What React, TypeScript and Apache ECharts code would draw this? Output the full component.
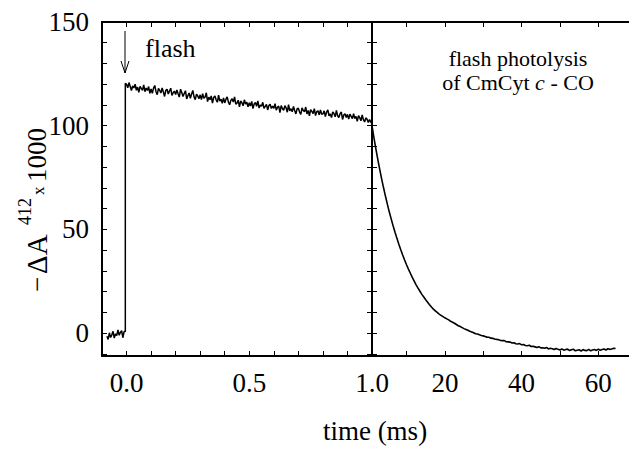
import React, { useEffect, useRef } from "react";
import * as echarts from "echarts";

const FONT = "'Liberation Serif','Times New Roman',Times,serif";

// ---- data ----
// pre-flash baseline (time in ms, -ΔA412 x 1000)
const preFlashTimes = [-0.08, -0.075, -0.07, -0.065, -0.06, -0.055, -0.05, -0.045, -0.04, -0.035, -0.03, -0.025, -0.02, -0.015, -0.01];
const preFlashValues = [-1.5, -3.0, 0.2, -2.1, -0.8, 0.9, -2.4, -0.3, -1.2, 1.6, -1.0, 0.4, 1.2, -2.2, 0.8];
const flashTime = -0.005;
const flashPeak = 120.5;

// post-flash trace, sampled every 0.005 ms from 0.000 to 1.000 ms
const postStart = 0;
const postStep = 0.005;
const postFlashValues = [
  120.0, 118.3, 120.8, 118.9, 117.0, 119.2, 118.2, 120.0, 117.1, 118.6, 116.1, 118.9, 118.0, 117.1, 119.7, 116.4, 118.2, 117.0, 118.9, 115.6,
  117.7, 115.6, 118.1, 119.4, 116.4, 115.0, 118.0, 117.0, 115.8, 118.2, 116.3, 114.1, 117.1, 117.6, 115.3, 116.7, 118.1, 114.6, 115.9, 116.7,
  115.0, 117.2, 115.4, 113.8, 117.6, 116.0, 114.1, 115.5, 116.9, 112.9, 114.5, 115.8, 113.2, 115.3, 117.0, 113.9, 112.6, 115.2, 114.4, 113.0,
  114.9, 112.6, 115.4, 113.2, 113.8, 115.9, 111.6, 113.8, 112.5, 114.4, 110.9, 113.6, 114.4, 112.5, 111.3, 114.7, 111.9, 112.8, 110.8, 113.4,
  111.0, 112.8, 113.9, 111.4, 110.1, 112.2, 113.0, 111.4, 113.9, 110.4, 110.9, 112.3, 109.1, 111.9, 111.1, 109.6, 112.5, 110.4, 111.3, 109.1,
  111.1, 109.5, 111.7, 108.3, 110.5, 111.2, 109.4, 112.0, 108.5, 110.0, 109.4, 111.3, 108.4, 109.3, 110.3, 107.6, 109.7, 110.4, 108.3, 109.4,
  108.4, 110.6, 107.5, 108.9, 109.5, 106.3, 109.7, 108.3, 107.4, 109.7, 108.6, 106.5, 110.2, 107.2, 108.2, 106.7, 109.3, 107.3, 105.7, 108.2,
  108.4, 106.6, 105.5, 108.6, 107.3, 106.7, 109.0, 105.7, 107.4, 104.8, 107.8, 106.9, 105.8, 108.2, 104.9, 106.8, 107.2, 105.2, 107.6, 105.5,
  105.7, 107.2, 104.4, 106.6, 107.6, 104.8, 105.7, 103.9, 106.7, 105.9, 104.3, 107.4, 104.8, 103.9, 105.8, 106.6, 103.0, 105.2, 105.8, 104.0,
  105.5, 103.2, 105.6, 104.5, 103.4, 105.8, 103.5, 104.5, 102.1, 104.9, 103.9, 102.4, 105.2, 102.9, 101.8, 103.8, 103.1, 101.6, 103.0, 101.8,
  101.0,
];

// decay after 1.0 ms, sampled every 0.5 ms from 1.0 to 64.5 ms
const decayStart = 1;
const decayStep = 0.5;
const decayValues = [
  100, 94.3, 89.0, 83.9, 79.1, 74.5, 70.2, 66.1, 62.2, 58.5,
  55.1, 51.8, 48.7, 45.7, 42.9, 40.2, 37.7, 35.3, 33.0, 30.9,
  28.9, 26.9, 25.1, 23.3, 21.7, 20.2, 18.7, 17.4, 16.1, 14.9,
  13.7, 12.6, 11.6, 10.8, 10.0, 9.2, 8.6, 8.0, 7.4,
  6.9, 6.4, 5.7, 5.3, 4.8, 4.2, 3.6, 3.2, 2.7, 2.2,
  1.8, 1.4, 0.9, 0.6, 0.2, -0.3, -0.4, -0.8, -1.1, -1.3,
  -1.6, -1.9, -2.0, -2.4, -2.5, -2.8, -3.0, -3.1, -3.5, -3.6,
  -3.6, -4.1, -4.2, -4.3, -4.7, -4.6, -5.1, -5.2, -5.0, -5.6,
  -5.5, -5.9, -6.1, -5.8, -6.4, -6.3, -6.6, -6.9, -6.5, -7.1,
  -7.0, -7.3, -6.9, -7.6, -7.3, -7.5, -7.9, -7.4, -7.8, -8.1,
  -7.6, -8.2, -7.9, -7.7, -8.4, -8.0, -7.7, -8.5, -8.2, -8.0,
  -8.6, -7.9, -8.3, -8.4, -7.8, -8.5, -8.1, -7.9, -8.3, -7.7,
  -8.2, -7.9, -7.6, -8.1, -7.5, -7.8, -7.6, -7.3, -7.4,
];

// axes
const yMin = -11;
const yMax = 150;
const yTickValues = [-10, 0, 10, 20, 30, 40, 50, 60, 70, 80, 90, 100, 110, 120, 130, 140, 150];
const yLabelValues = [0, 50, 100, 150];
const leftXMin = -0.1;
const leftXMax = 1.0;
const leftXLabels = [0, 0.5, 1.0];
const rightXMin = 1;
const rightXMax = 68;
const rightXTicks = [10, 20, 30, 40, 50, 60];
const rightXLabels = [20, 40, 60];

export default function App() {
  const ref = useRef<HTMLDivElement>(null);
  useEffect(() => {
    document.body.style.margin = "0";
    const chart = echarts.init(ref.current!, null, { renderer: "svg" });

    const leftData: number[][] = [];
    preFlashTimes.forEach((t, i) => leftData.push([t, preFlashValues[i]]));
    leftData.push([flashTime, preFlashValues[preFlashValues.length - 1]]);
    leftData.push([flashTime, flashPeak]);
    postFlashValues.forEach((v, i) => leftData.push([postStart + i * postStep, v]));

    const rightData: number[][] = decayValues.map((v, i) => [decayStart + i * decayStep, v]);

    const axisLine = { show: true, onZero: false, lineStyle: { color: "#000", width: 2 } };
    const tick = { show: true, inside: true, length: 5, lineStyle: { color: "#000", width: 1 } };
    const labelStyle = { color: "#000", fontFamily: FONT, fontSize: 27 };

    chart.setOption({
      animation: false,
      backgroundColor: "#fff",
      grid: [
        { left: 102, top: 22, width: 270, height: 334 },
        { left: 372, top: 22, width: 257, height: 334 },
      ],
      xAxis: [
        {
          type: "value", gridIndex: 0, position: "bottom", min: leftXMin, max: leftXMax, interval: 0.1,
          axisLine, axisTick: tick, splitLine: { show: false },
          axisLabel: { ...labelStyle, margin: 13, customValues: leftXLabels, formatter: (v: number) => v.toFixed(1) },
        },
        {
          type: "value", gridIndex: 0, position: "top", min: leftXMin, max: leftXMax, interval: 0.1,
          axisLine, axisTick: tick, splitLine: { show: false }, axisLabel: { show: false },
        },
        {
          type: "value", gridIndex: 1, position: "bottom", min: rightXMin, max: rightXMax,
          axisLine, axisTick: { ...tick, customValues: rightXTicks }, splitLine: { show: false },
          axisLabel: { ...labelStyle, margin: 13, customValues: rightXLabels, formatter: (v: number) => String(v) },
        },
        {
          type: "value", gridIndex: 1, position: "top", min: rightXMin, max: rightXMax,
          axisLine, axisTick: { ...tick, customValues: rightXTicks }, splitLine: { show: false }, axisLabel: { show: false },
        },
      ],
      yAxis: [
        {
          type: "value", gridIndex: 0, position: "left", min: yMin, max: yMax,
          axisLine, axisTick: { ...tick, customValues: yTickValues }, splitLine: { show: false },
          axisLabel: { ...labelStyle, margin: 13, customValues: yLabelValues },
        },
        {
          type: "value", gridIndex: 0, position: "right", min: yMin, max: yMax,
          axisLine, axisTick: { ...tick, customValues: yTickValues }, splitLine: { show: false }, axisLabel: { show: false },
        },
        {
          type: "value", gridIndex: 1, position: "left", min: yMin, max: yMax,
          axisLine, axisTick: { ...tick, customValues: yTickValues }, splitLine: { show: false }, axisLabel: { show: false },
        },
      ],
      series: [
        {
          type: "line", xAxisIndex: 0, yAxisIndex: 0, data: leftData, showSymbol: false, symbol: "none",
          lineStyle: { color: "#000", width: 1.5 }, clip: true,
        },
        {
          type: "line", xAxisIndex: 2, yAxisIndex: 2, data: rightData, showSymbol: false, symbol: "none",
          lineStyle: { color: "#000", width: 1.6 }, clip: true,
        },
      ],
      graphic: [
        // y-axis title, rotated
        {
          type: "group", x: 37, y: 292, rotation: Math.PI / 2,
          children: [
            { type: "text", x: 0, y: 0, style: { text: "\u2212", fontFamily: FONT, fontSize: 27, fill: "#000", align: "left", verticalAlign: "middle" } },
            { type: "text", x: 18, y: 0, style: { text: "\u0394A", fontFamily: FONT, fontSize: 29, fill: "#000", align: "left", verticalAlign: "middle" } },
            { type: "text", x: 67, y: -12, style: { text: "412", fontFamily: FONT, fontSize: 18, fill: "#000", align: "left", verticalAlign: "middle" } },
            { type: "text", x: 97, y: 1, style: { text: "x", fontFamily: FONT, fontSize: 17, fill: "#000", align: "left", verticalAlign: "middle" } },
            { type: "text", x: 110, y: 0, style: { text: "1000", fontFamily: FONT, fontSize: 27, fill: "#000", align: "left", verticalAlign: "middle" } },
          ],
        },
        // x-axis title
        { type: "text", x: 375, y: 431, style: { text: "time (ms)", fontFamily: FONT, fontSize: 27, fill: "#000", align: "center", verticalAlign: "middle" } },
        // flash arrow and label
        { type: "line", shape: { x1: 125, y1: 31, x2: 125, y2: 73 }, style: { stroke: "#000", lineWidth: 1 } },
        { type: "polyline", shape: { points: [[121, 61], [125, 73], [129, 61]] }, style: { stroke: "#000", lineWidth: 1, fill: null } },
        { type: "text", x: 145, y: 48, style: { text: "flash", fontFamily: FONT, fontSize: 26, fill: "#000", align: "left", verticalAlign: "middle" } },
        // annotation
        { type: "text", x: 518, y: 58, style: { text: "flash photolysis", fontFamily: FONT, fontSize: 22, fill: "#000", align: "center", verticalAlign: "middle" } },
        {
          type: "text", x: 518, y: 82,
          style: {
            text: "{n|of CmCyt }{i|c}{n| - CO}", align: "center", verticalAlign: "middle", fill: "#000",
            rich: {
              n: { fontFamily: FONT, fontSize: 22, fill: "#000" },
              i: { fontFamily: FONT, fontSize: 22, fontStyle: "italic", fill: "#000" },
            },
          },
        },
      ],
    });
    return () => chart.dispose();
  }, []);
  return <div ref={ref} style={{ width: 629, height: 449 }} />;
}
